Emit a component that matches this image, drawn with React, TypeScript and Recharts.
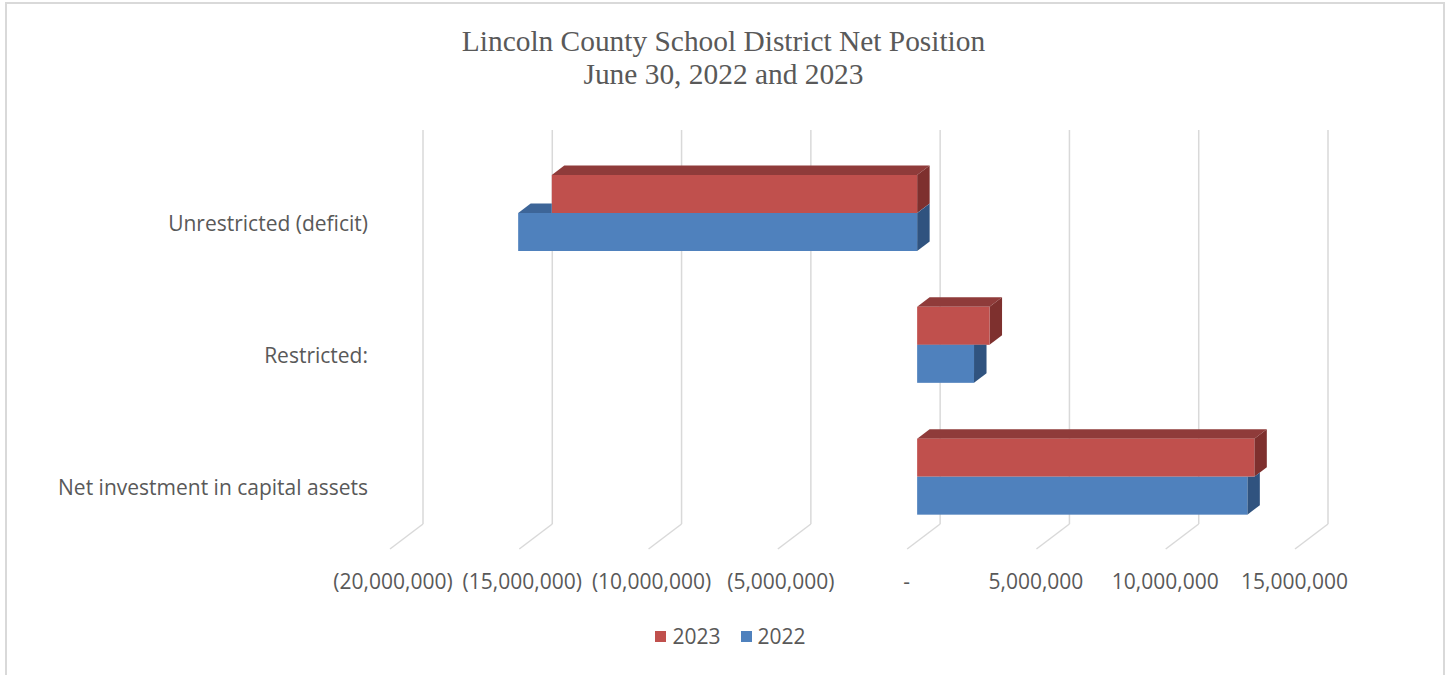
import React from 'react';
import { BarChart, Bar, XAxis, YAxis, CartesianGrid, Legend } from 'recharts';

const categories = ['Unrestricted (deficit)', 'Restricted:', 'Net investment in capital assets'];
const values2023 = [-14130000, 2800000, 13040000];
const values2022 = [-15430000, 2200000, 12770000];
const xTicks = [-20000000, -15000000, -10000000, -5000000, 0, 5000000, 10000000, 15000000];
const seriesNames = ['2023', '2022'];

const data = categories.map((name, i) => ({
  name,
  y2023: values2023[i],
  y2022: values2022[i],
}));

// depth of the 3D boxes
const DX = 12.5;
const DY = 9.5;

const RED = { front: '#C0504D', top: '#8F3B3A', side: '#7E302E' };
const BLUE = { front: '#4F81BD', top: '#3D6598', side: '#30537F' };

const fmt = (v: number) => {
  if (v === 0) return '-';
  const s = Math.abs(v).toLocaleString('en-US');
  return v < 0 ? `(${s})` : s;
};

const Box3D = (props: any) => {
  const { x, y, width, height, payload, colors, ownKey, coverKey, index } = props;
  const x0 = Math.min(x, x + width);
  const w = Math.abs(width);
  const x1 = x0 + w;
  const y0 = y;
  const y1 = y + height;

  let clip: string | undefined;
  let clipEl = null;
  if (coverKey) {
    // the bar above (drawn earlier) sits in front: cut its silhouette out
    const v = payload[ownKey];
    const vr = payload[coverKey];
    const ppu = w / Math.abs(v);
    const zero = v < 0 ? x1 : x0;
    const r = zero + vr * ppu;
    const a = Math.min(zero, r);
    const b = Math.max(zero, r);
    const ry = y0 - height;
    const hex = `M${a},${y0} L${a},${ry} L${a + DX},${ry - DY} L${b + DX},${ry - DY} L${b + DX},${y0 - DY} L${b},${y0} Z`;
    const id = `cut-${ownKey}-${index}`;
    clip = `url(#${id})`;
    clipEl = (
      <defs>
        <clipPath id={id}>
          <path d={`M-5000,-5000 H5000 V5000 H-5000 Z ${hex}`} clipRule="evenodd" />
        </clipPath>
      </defs>
    );
  }

  return (
    <g>
      {clipEl}
      <g clipPath={clip}>
        <polygon
          points={`${x0},${y0} ${x0 + DX},${y0 - DY} ${x1 + DX},${y0 - DY} ${x1},${y0}`}
          fill={colors.top}
        />
        <polygon
          points={`${x1},${y0} ${x1 + DX},${y0 - DY} ${x1 + DX},${y1 - DY} ${x1},${y1}`}
          fill={colors.side}
        />
        <rect x={x0} y={y0} width={w} height={height} fill={colors.front} />
      </g>
    </g>
  );
};

const XTick = (props: any) => {
  const { x, y, payload } = props;
  const v = payload.value;
  return (
    <g>
      <line x1={x + 23} y1={y - 18.5} x2={x - 10} y2={y + 6.5} stroke="#d9d9d9" strokeWidth={1.5} />
      <text
        x={v < 0 ? x - 7 : x - 10.5}
        y={y + 38}
        textAnchor="middle"
        dominantBaseline="central"
        fill="#595959"
        fontSize={21}
        fontFamily="'Open Sans', sans-serif"
      >
        {fmt(v)}
      </text>
    </g>
  );
};

const YTick = (props: any) => {
  const { x, y, payload } = props;
  return (
    <text
      x={x - 32}
      y={y + 10}
      textAnchor="end"
      dominantBaseline="central"
      fill="#595959"
      fontSize={21}
      fontFamily="'Open Sans', sans-serif"
    >
      {payload.value}
    </text>
  );
};

const GridLine = (props: any) => {
  const { x1, y1, y2, index } = props;
  return (
    <line
      key={`g-${index}`}
      x1={x1 + 23}
      y1={y1 - 17}
      x2={x1 + 23}
      y2={y2 - 18.5}
      stroke="#d9d9d9"
      strokeWidth={1.5}
    />
  );
};

const LegendBox = () => {
  const items = [
    { name: seriesNames[0], color: RED.front },
    { name: seriesNames[1], color: BLUE.front },
  ];
  return (
    <div
      style={{
        display: 'flex',
        justifyContent: 'center',
        paddingLeft: 14,
        gap: 20,
        fontFamily: "'Open Sans', sans-serif",
        fontSize: 21,
        color: '#595959',
      }}
    >
      {items.map((it) => (
        <div key={it.name} style={{ display: 'flex', alignItems: 'center', gap: 6 }}>
          <span style={{ width: 11, height: 11, background: it.color, display: 'inline-block' }} />
          <span>{it.name}</span>
        </div>
      ))}
    </div>
  );
};

export default function App() {
  return (
    <div style={{ position: 'absolute', left: 0, top: 0, width: 1447, height: 675, background: '#fff', overflow: 'hidden' }}>
      <div
        style={{
          position: 'absolute',
          left: 5,
          top: 2,
          width: 1436,
          height: 700,
          border: '2px solid #d9d9d9',
        }}
      />
      <div
        style={{
          position: 'absolute',
          left: 0,
          top: 25,
          width: 1447,
          textAlign: 'center',
          fontFamily: "'Liberation Serif', serif",
          fontSize: 29.4,
          lineHeight: '33px',
          color: '#595959',
        }}
      >
        <div>Lincoln County School District Net Position</div>
        <div>June 30, 2022 and 2023</div>
      </div>
      <BarChart
        width={1447}
        height={675}
        data={data}
        layout="vertical"
        margin={{ top: 147, right: 142, left: 10, bottom: 72.5 }}
        barCategoryGap={28}
        barGap={0}
      >
        <CartesianGrid horizontal={false} vertical={GridLine} />
        <XAxis
          type="number"
          domain={[-20000000, 15000000]}
          ticks={xTicks}
          interval={0}
          height={60}
          axisLine={false}
          tickLine={false}
          tickSize={0}
          tickMargin={0}
          tick={<XTick />}
        />
        <YAxis
          type="category"
          dataKey="name"
          width={390}
          axisLine={false}
          tickLine={false}
          tickSize={0}
          tickMargin={0}
          tick={<YTick />}
        />
        <Legend
          verticalAlign="middle"
          align="center"
          layout="horizontal"
          wrapperStyle={{ top: 622, left: 0, width: 1447 }}
          content={<LegendBox />}
        />
        <Bar
          dataKey="y2023"
          name={seriesNames[0]}
          fill={RED.front}
          isAnimationActive={false}
          shape={(p: any) => <Box3D {...p} colors={RED} ownKey="y2023" />}
        />
        <Bar
          dataKey="y2022"
          name={seriesNames[1]}
          fill={BLUE.front}
          isAnimationActive={false}
          shape={(p: any) => <Box3D {...p} colors={BLUE} ownKey="y2022" coverKey="y2023" />}
        />
      </BarChart>
    </div>
  );
}
